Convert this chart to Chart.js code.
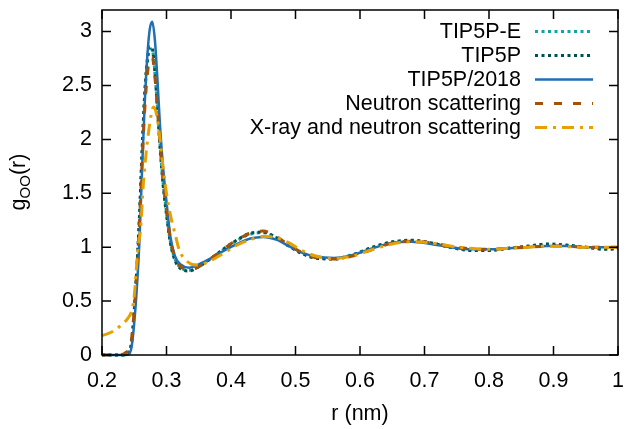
<!DOCTYPE html>
<html>
<head>
<meta charset="utf-8">
<script src="https://cdn.jsdelivr.net/npm/chart.js@4.4.0/dist/chart.umd.min.js"></script>
<style>
  html, body { margin: 0; padding: 0; background: #fff; }
</style>
</head>
<body>
<canvas id="grafico" width="626" height="429"></canvas>
<script>
// g_OO(r) - modelos TIP5P vs experimentos

const xTicks = [0.2, 0.3, 0.4, 0.5, 0.6, 0.7, 0.8, 0.9, 1.0];
const yTicks = [0, 0.5, 1, 1.5, 2, 2.5, 3];

// grade de r (nm) usada pelas simulações e pelo nêutron
const rSim = [0.20, 0.23, 0.236, 0.242, 0.246, 0.250, 0.254, 0.258, 0.262, 0.266, 0.270, 0.274,
  0.278, 0.282, 0.286, 0.290, 0.295, 0.300, 0.306, 0.313, 0.322, 0.335, 0.35, 0.37,
  0.39, 0.41, 0.43, 0.45, 0.47, 0.49, 0.51, 0.53, 0.56, 0.59, 0.62, 0.65,
  0.68, 0.71, 0.74, 0.77, 0.80, 0.83, 0.86, 0.89, 0.92, 0.95, 0.98, 1.0];

const tip5pE = [0, 0, 0.004, 0.03, 0.12, 0.40, 0.78, 1.25, 1.85, 2.38, 2.70, 2.84,
  2.83, 2.62, 2.30, 1.95, 1.58, 1.32, 1.05, 0.89, 0.81, 0.785, 0.82, 0.90,
  0.985, 1.065, 1.12, 1.135, 1.09, 1.01, 0.945, 0.905, 0.895, 0.935, 1.00, 1.045,
  1.06, 1.04, 1.00, 0.975, 0.975, 0.99, 1.005, 1.02, 1.015, 1.00, 0.985, 0.99];

const tip5p = [0, 0, 0.005, 0.03, 0.13, 0.42, 0.80, 1.28, 1.88, 2.40, 2.72, 2.86,
  2.84, 2.62, 2.28, 1.92, 1.56, 1.30, 1.04, 0.88, 0.80, 0.78, 0.82, 0.90,
  0.99, 1.07, 1.13, 1.14, 1.09, 1.01, 0.94, 0.90, 0.89, 0.93, 1.00, 1.05,
  1.065, 1.04, 1.00, 0.97, 0.97, 0.99, 1.01, 1.03, 1.02, 1.00, 0.98, 0.985];

const tip5p2018 = [0, 0, 0, 0.01, 0.08, 0.30, 0.62, 1.05, 1.70, 2.30, 2.75, 3.02,
  3.09, 2.92, 2.55, 2.12, 1.72, 1.42, 1.10, 0.92, 0.84, 0.81, 0.84, 0.90,
  0.97, 1.03, 1.08, 1.095, 1.07, 1.01, 0.95, 0.915, 0.90, 0.93, 0.99, 1.04,
  1.05, 1.03, 1.00, 0.98, 0.98, 0.99, 1.00, 1.01, 1.01, 1.00, 1.00, 1.00];

const neutron = [0, 0.005, 0.02, 0.06, 0.16, 0.42, 0.78, 1.22, 1.76, 2.25, 2.58, 2.75,
  2.76, 2.58, 2.28, 1.97, 1.62, 1.35, 1.08, 0.91, 0.82, 0.79, 0.82, 0.90,
  0.99, 1.07, 1.13, 1.15, 1.10, 1.02, 0.95, 0.905, 0.89, 0.92, 0.98, 1.04,
  1.055, 1.04, 1.01, 0.985, 0.98, 0.99, 1.00, 1.01, 1.01, 1.00, 1.00, 1.00];

// raio-X + nêutron tem grade própria (começa acima de zero)
const rXray = [0.20, 0.21, 0.22, 0.23, 0.24, 0.246, 0.250, 0.253, 0.256, 0.260, 0.264, 0.268,
  0.272, 0.276, 0.280, 0.285, 0.290, 0.295, 0.300, 0.306, 0.313, 0.320, 0.330, 0.340,
  0.35, 0.37, 0.39, 0.41, 0.43, 0.45, 0.47, 0.49, 0.51, 0.53, 0.56, 0.59,
  0.62, 0.65, 0.68, 0.71, 0.74, 0.77, 0.80, 0.83, 0.86, 0.89, 0.92, 0.95, 0.98, 1.0];
const xray = [0.18, 0.20, 0.23, 0.28, 0.34, 0.41, 0.55, 0.78, 1.0, 1.18, 1.58, 1.85,
  2.06, 2.22, 2.30, 2.22, 2.0, 1.72, 1.50, 1.30, 1.13, 0.97, 0.88, 0.84,
  0.835, 0.88, 0.95, 1.02, 1.07, 1.10, 1.09, 1.04, 0.97, 0.92, 0.895, 0.92,
  0.98, 1.03, 1.05, 1.04, 1.01, 0.99, 0.98, 0.99, 1.00, 1.01, 1.005, 1.00, 1.00, 1.00];

const FONTE = 'Liberation Sans, Arial, sans-serif';
const TAM = 21.5;

function pontos(rs, gs) {
  return rs.map((r, i) => ({ x: r, y: gs[i] }));
}

function serie(label, rs, gs, cor, dash, largura, ordem) {
  return {
    label,
    data: pontos(rs, gs),
    borderColor: cor,
    borderDash: dash,
    borderWidth: largura,
    pointRadius: 0,
    fill: false,
    cubicInterpolationMode: 'monotone',
    clip: 4,
    order: ordem
  };
}

// moldura estilo gnuplot: caixa + ticks para dentro nos 4 lados
const moldura = {
  id: 'moldura',
  afterDatasetsDraw(chart) {
    const { ctx, chartArea: a, scales } = chart;
    ctx.save();
    ctx.strokeStyle = '#000';
    ctx.lineWidth = 1.5;
    ctx.beginPath();
    xTicks.forEach(v => {
      const px = scales.x.getPixelForValue(v);
      ctx.moveTo(px, a.bottom); ctx.lineTo(px, a.bottom - 9);
      ctx.moveTo(px, a.top); ctx.lineTo(px, a.top + 9);
    });
    yTicks.forEach(v => {
      const py = scales.y.getPixelForValue(v);
      ctx.moveTo(a.left, py); ctx.lineTo(a.left + 9, py);
      ctx.moveTo(a.right, py); ctx.lineTo(a.right - 9, py);
    });
    ctx.stroke();
    ctx.strokeRect(a.left, a.top, a.right - a.left, a.bottom - a.top);
    ctx.restore();
  }
};

// legenda no canto superior direito (texto à esquerda, amostra à direita)
const legenda = {
  id: 'legenda',
  afterDraw(chart) {
    const ctx = chart.ctx;
    ctx.save();
    ctx.font = TAM + 'px ' + FONTE;
    ctx.textAlign = 'right';
    ctx.textBaseline = 'middle';
    chart.data.datasets.forEach((ds, i) => {
      const y = 31.5 + i * 24;
      ctx.fillStyle = '#000';
      ctx.fillText(ds.label, 521, y + 1);
      ctx.strokeStyle = ds.borderColor;
      ctx.lineWidth = ds.borderWidth;
      ctx.setLineDash(ds.borderDash || []);
      ctx.beginPath();
      ctx.moveTo(535, y);
      ctx.lineTo(593, y);
      ctx.stroke();
    });
    ctx.restore();
  }
};

// título do eixo y com subscrito
const tituloY = {
  id: 'tituloY',
  afterDraw(chart) {
    const ctx = chart.ctx;
    ctx.save();
    ctx.fillStyle = '#000';
    ctx.translate(25, 182);
    ctx.rotate(-Math.PI / 2);
    ctx.textBaseline = 'alphabetic';
    ctx.textAlign = 'left';
    const grande = TAM + 'px ' + FONTE, pequeno = '15px ' + FONTE;
    ctx.font = grande; const w1 = ctx.measureText('g').width, w3 = ctx.measureText('(r)').width;
    ctx.font = pequeno; const w2 = ctx.measureText('OO').width;
    let x = -(w1 + w2 + w3) / 2;
    ctx.font = grande; ctx.fillText('g', x, 0); x += w1;
    ctx.font = pequeno; ctx.fillText('OO', x, 5); x += w2;
    ctx.font = grande; ctx.fillText('(r)', x, 0);
    ctx.restore();
  }
};

new Chart(document.getElementById('grafico').getContext('2d'), {
  type: 'line',
  data: {
    datasets: [
      serie('TIP5P-E', rSim, tip5pE, '#13a3a3', [3, 3.5], 3, 5),
      serie('TIP5P', rSim, tip5p, '#00504f', [3, 3.5], 3, 4),
      serie('TIP5P/2018', rSim, tip5p2018, '#1f6fb3', [], 2.5, 3),
      serie('Neutron scattering', rSim, neutron, '#a2520a', [8, 11], 3, 2),
      serie('X-ray and neutron scattering', rXray, xray, '#e8a000', [12, 6, 3, 6], 3, 1)
    ]
  },
  options: {
    responsive: false,
    animation: false,
    layout: { padding: { top: 10, right: 8, left: 0, bottom: 0 } },
    plugins: { legend: { display: false }, tooltip: { enabled: false } },
    scales: {
      x: {
        type: 'linear',
        min: 0.2, max: 1.0,
        afterBuildTicks: s => { s.ticks = xTicks.map(v => ({ value: v })); },
        afterFit: s => { s.height = 74; s.paddingLeft = 0; s.paddingRight = 0; },
        grid: { display: false, drawTicks: false },
        border: { display: false },
        ticks: {
          color: '#000', font: { family: FONTE, size: TAM }, padding: 13,
          maxRotation: 0, autoSkip: false,
          callback: v => String(+v.toFixed(1))
        },
        title: {
          display: true, text: 'r (nm)', color: '#000',
          font: { family: FONTE, size: TAM }, padding: { top: 0, bottom: 2 }
        }
      },
      y: {
        type: 'linear',
        min: 0, max: 3.2,
        afterBuildTicks: s => { s.ticks = yTicks.map(v => ({ value: v })); },
        afterFit: s => { s.width = 102; s.paddingTop = 0; s.paddingBottom = 0; },
        grid: { display: false, drawTicks: false },
        border: { display: false },
        ticks: {
          color: '#000', font: { family: FONTE, size: TAM }, padding: 10,
          callback: v => String(+v.toFixed(1))
        }
      }
    }
  },
  plugins: [moldura, legenda, tituloY]
});
</script>
</body>
</html>
